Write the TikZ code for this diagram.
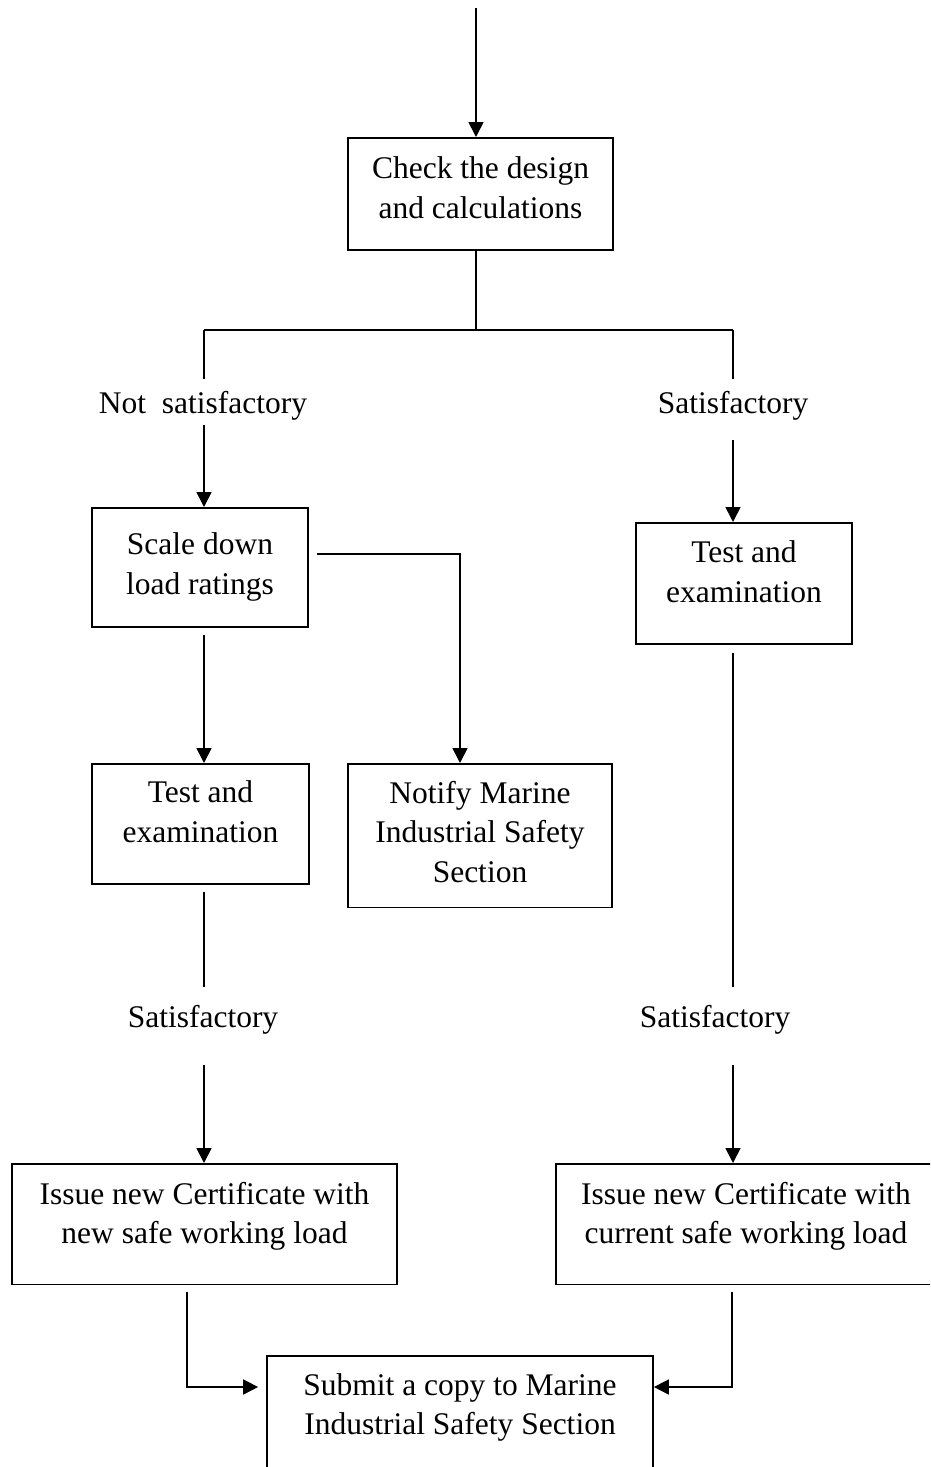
\documentclass[tikz,border=0pt]{standalone}
\usepackage{fontspec}
\setmainfont{Liberation Serif}
\usetikzlibrary{arrows.meta}
\begin{document}
\begin{tikzpicture}[x=1pt,y=-1pt,
  every node/.style={font=\fontsize{31.5pt}{39.5pt}\selectfont},
  box/.style={draw, line width=1.7pt, align=center, anchor=north, inner xsep=2pt, inner ysep=18pt},
  lbl/.style={inner sep=0pt, anchor=base, text height=21.5pt, text depth=7pt},
  conn/.style={line width=1.7pt},
  arr/.style={line width=1.7pt, -{Triangle[length=15pt,width=15pt]}}]
\useasboundingbox (0,0) rectangle (930,1467);
\clip (0,0) rectangle (930,1467);

% boxes
\node[box, minimum width=265pt, inner ysep=19pt, text depth=13pt] (b1) at (480.5,137) {Check the design\\and calculations};
\node[box, minimum width=216pt, inner ysep=25pt, text depth=8pt] (b2) at (200,507) {Scale down\\load ratings};
\node[box, minimum width=216pt, inner ysep=18pt, text depth=24pt] (b3) at (744,522) {Test and\\examination};
\node[box, minimum width=217pt, inner ysep=17pt, text depth=25pt] (b4) at (200.5,763) {Test and\\examination};
\node[box, minimum width=264pt, inner ysep=17pt, text depth=8.5pt] (b5) at (480,763) {Notify Marine\\Industrial Safety\\Section};
\node[box, minimum width=385pt, inner ysep=18pt, text depth=23pt] (b6) at (204.5,1163) {Issue new Certificate with\\new safe working load};
\node[box, minimum width=380pt, inner ysep=18pt, text depth=23pt] (b7) at (746,1163) {Issue new Certificate with\\current safe working load};
\node[box, minimum width=386pt, inner ysep=17.5pt, text depth=60pt] (b8) at (460,1355) {Submit a copy to Marine\\Industrial Safety Section};

% labels
\node[lbl] (ns) at (203,413) {Not\ \ satisfactory};
\node[lbl] (s1) at (733,413) {Satisfactory};
\node[lbl] (s2) at (203,1027) {Satisfactory};
\node[lbl] (s3) at (715,1027) {Satisfactory};

% coordinates
\coordinate (top) at (476,8);
\coordinate (j) at (476,330);
\coordinate (jl) at (204,330);
\coordinate (jr) at (733,330);
\coordinate (c1) at (460,554);
\coordinate (bl) at (187,1387);
\coordinate (br) at (732,1387);

% connectors
\draw[arr] (top) -- (top |- b1.north);
\draw[conn] (j |- b1.south) -- (j);
\draw[conn] (jl) -- (jr);
\draw[conn, shorten >=12.5pt] (jl) -- (jl |- ns.north);
\draw[conn, shorten >=12.5pt] (jr) -- (jr |- s1.north);
\draw[arr, shorten <=5pt] (jl |- ns.south) -- (jl |- b2.north);
\draw[arr, shorten <=20pt] (jr |- s1.south) -- (jr |- b3.north);
\draw[arr, shorten <=8pt] (b2.east |- c1) -- (c1) -- (c1 |- b5.north);
\draw[arr, shorten <=7pt] (jl |- b2.south) -- (jl |- b4.north);
\draw[conn, shorten <=7pt, shorten >=18.5pt] (jl |- b4.south) -- (jl |- s2.north);
\draw[arr, shorten <=31pt] (jl |- s2.south) -- (jl |- b6.north);
\draw[conn, shorten <=8pt, shorten >=18.5pt] (jr |- b3.south) -- (jr |- s3.north);
\draw[arr, shorten <=31pt] (jr |- s3.south) -- (jr |- b7.north);
\draw[arr, shorten <=7pt, shorten >=8pt] (bl |- b6.south) -- (bl) -- (b8.west |- bl);
\draw[arr, shorten <=7pt] (br |- b7.south) -- (br) -- (b8.east |- br);
\end{tikzpicture}
\end{document}
